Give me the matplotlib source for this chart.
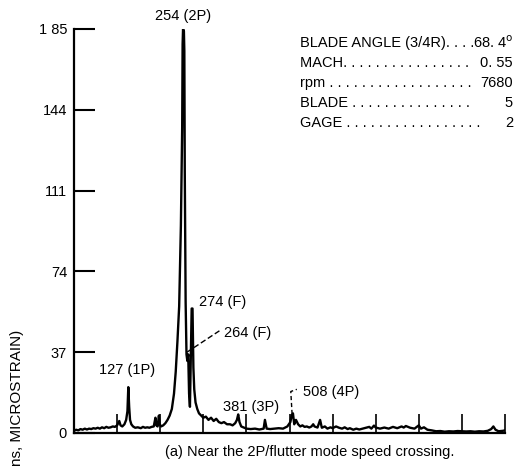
import matplotlib
matplotlib.use("Agg")
import matplotlib.pyplot as plt

plt.rcParams['font.family'] = ['Liberation Sans', 'DejaVu Sans']

# spectrum (Hz, microstrain)
freq = [0, 5, 10, 15, 20, 25, 30, 35, 40, 45, 50, 55, 60, 65, 70, 75, 80, 85, 90, 95,
        100, 105, 108, 112, 117, 121, 124, 126, 128, 130, 133, 137, 142, 148, 155, 160,
        165, 170, 175, 180, 185, 189, 191, 194, 197, 199, 202, 207, 212, 217, 222, 227,
        232, 236, 240, 244, 248, 251, 252, 253, 255, 256, 257, 259, 261, 263, 265, 267, 269, 271,
        273, 275, 277, 279, 282, 286, 290, 295, 300, 306, 312, 318, 324, 330, 336, 342,
        348, 355, 362, 368, 374, 378, 381, 384, 388, 394, 400, 410, 420, 430, 440, 443,
        447, 455, 465, 475, 485, 495, 502, 505, 508, 511, 515, 520, 525, 530, 535, 540,
        546, 551, 555, 558, 565, 571, 575, 582, 588, 595, 600, 608, 615, 622, 628, 635,
        640, 648, 655, 662, 670, 678, 685, 690, 696, 700, 710, 720, 730, 740, 750, 760,
        765, 770, 780, 790, 800, 805, 812, 820, 830, 840, 850, 860, 870, 880, 890, 900,
        910, 920, 930, 940, 950, 960, 968, 973, 978, 985, 995, 1000]
amp = [1.0, 1.5, 1.2, 1.8, 1.5, 2.0, 1.6, 2.0, 1.8, 2.2, 2.0, 2.4, 2.0, 2.6, 2.2, 2.8, 2.4, 2.6, 3.0, 2.8,
       3.5, 5.5, 3.5, 3.0, 4.0, 6.0, 10.0, 21.0, 12.0, 6.0, 4.0, 3.0, 2.4, 2.6, 2.2, 2.8,
       2.4, 2.6, 2.4, 2.8, 3.0, 7.0, 3.5, 3.0, 8.0, 4.0, 3.0, 3.5, 4.5, 6.0, 8.0, 11.0,
       18.0, 28.0, 42.0, 58.0, 95.0, 140.0, 178.0, 185.0, 184.0, 175.0, 120.0, 60.0, 36.0, 33.0, 36.0, 18.0, 12.0, 35.0,
       57.0, 57.0, 30.0, 20.0, 14.0, 11.0, 9.0, 8.0, 7.0, 7.5, 6.0, 7.0, 5.5, 6.5, 5.0, 4.5,
       5.0, 4.0, 4.0, 3.5, 4.5, 6.0, 8.5, 5.0, 3.0, 2.5, 2.0, 1.8, 2.0, 1.6, 2.0, 6.0,
       2.0, 1.8, 2.0, 2.2, 2.0, 3.0, 5.0, 8.0, 9.0, 4.0, 6.0, 4.0, 3.0, 3.5, 2.8, 3.0,
       2.5, 3.0, 4.0, 3.0, 2.5, 6.0, 2.4, 3.0, 2.0, 2.6, 2.2, 3.0, 2.4, 2.0, 2.6, 1.8,
       2.2, 1.5, 2.0, 1.6, 2.0, 2.4, 2.8, 2.0, 3.4, 2.5, 2.0, 2.5, 2.0, 2.8, 2.2, 3.0,
       2.5, 3.2, 2.4, 2.0, 3.5, 2.0, 2.6, 1.5, 1.2, 0.8, 0.9, 0.6, 0.8, 0.7, 0.9, 0.8,
       0.7, 0.8, 0.6, 0.8, 0.7, 1.0, 1.8, 3.0, 1.5, 0.8, 1.0, 1.2]

yticks = [0, 37, 74, 111, 148, 185]
ytick_labels = ["0", "37", "74", "111", "144", "1 85"]
xticks = [100, 200, 300, 400, 500, 600, 700, 800, 900, 1000]

info_names = ["BLADE ANGLE (3/4R). . . .",
              "MACH" + ". " * 16,
              "rpm " + ". " * 18,
              "BLADE " + ". " * 15,
              "GAGE " + ". " * 17]
info_values = ["68. 4$^{\\rm o}$", "0. 55", "7680", "5", "2"]

W, H = 518, 468
fig = plt.figure(figsize=(W / 100, H / 100), dpi=100)
ax = fig.add_axes([74 / W, 1 - 433 / H, (505 - 74) / W, (433 - 29) / H])

ax.plot(freq, amp, color="black", lw=1.7)
ax.set_xlim(0, 1000)
ax.set_ylim(0, 185)
ax.spines["top"].set_visible(False)
ax.spines["right"].set_visible(False)
ax.spines["left"].set_linewidth(1.6)
ax.spines["bottom"].set_linewidth(1.6)
ax.set_yticks(yticks)
ax.set_yticklabels(ytick_labels, fontsize=10.5)
ax.set_xticks(xticks)
ax.set_xticklabels([])
ax.tick_params(axis="y", direction="in", length=15, width=1.5, pad=5)
ax.tick_params(axis="x", direction="in", length=14, width=1.2)

# peak labels
fs = 10.5
ax.text(253, 191, "254 (2P)", ha="center", va="center", fontsize=fs, clip_on=False)
ax.text(290, 60, "274 (F)", ha="left", va="center", fontsize=fs)
ax.text(348, 46, "264 (F)", ha="left", va="center", fontsize=fs)
ax.plot([262, 339], [37, 47], color="black", lw=1, ls=(0, (4, 2)))
ax.text(122, 29, "127 (1P)", ha="center", va="center", fontsize=fs)
ax.text(411, 12, "381 (3P)", ha="center", va="center", fontsize=fs)
ax.text(531, 19, "508 (4P)", ha="left", va="center", fontsize=fs)
ax.plot([506, 503, 517], [8.7, 19, 20], color="black", lw=1, ls=(0, (3, 2)))

# test conditions block
for i, (name, val) in enumerate(zip(info_names, info_values)):
    y = 1 - (43 + 20 * i) / H
    fig.text(300 / W, y, name, ha="left", va="center", fontsize=fs)
    fig.text(513 / W, y, val, ha="right", va="center", fontsize=fs)

fig.text(17 / W, 1 - 330 / H, "ns, MICROSTRAIN)", rotation=90, ha="center", va="top", fontsize=11)
fig.text(310 / W, 1 - 452 / H, "(a) Near the 2P/flutter mode speed crossing.",
         ha="center", va="center", fontsize=fs)

fig.savefig("out.png", dpi=100)
